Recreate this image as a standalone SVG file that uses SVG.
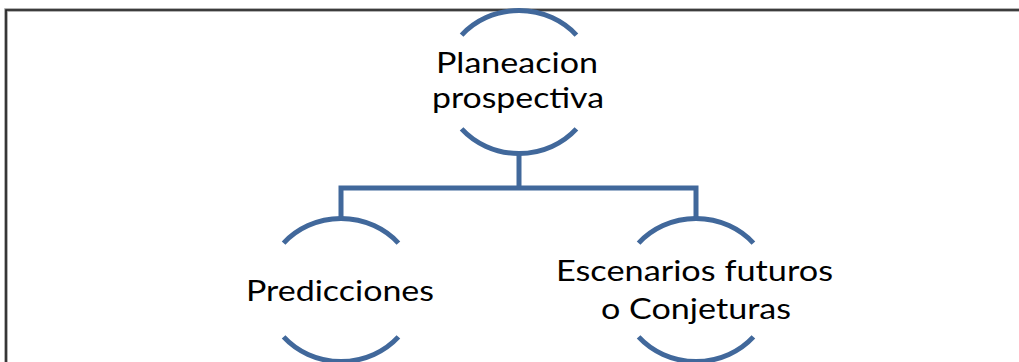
<svg xmlns="http://www.w3.org/2000/svg" width="1019" height="362" viewBox="0 0 1019 362">
<style>
.arc{fill:none;stroke:#41689B;stroke-width:5;stroke-linecap:butt}
.con{fill:none;stroke:#41689B;stroke-width:5;stroke-linejoin:miter}
.lbl{font-family:Lato,"Open Sans","Liberation Sans",sans-serif;font-size:29px;fill:#000}
</style>
<rect width="1019" height="362" fill="#fff"/>
<g id="frame">
<path d="M6,362 V10 H1019" fill="none" stroke="#9a9a9a" stroke-width="3.5"/>
<path d="M6,362 V10 H1019" fill="none" stroke="#1e1e1e" stroke-width="1.6"/>
</g>
<g id="connectors">
<path class="con" d="M519,154 V188"/>
<path class="con" d="M341,219 V188 H696 V219"/>
</g>
<g id="node-planeacion">
<path class="arc" d="M461.6,35.1 A76,71.5 0 0 1 576.4,35.1"/>
<path class="arc" d="M461.6,128.9 A76,71.5 0 0 0 576.4,128.9"/>
<text class="lbl" x="436" y="73" textLength="162" lengthAdjust="spacingAndGlyphs">Planeacion</text>
<text class="lbl" x="432" y="108" textLength="172" lengthAdjust="spacingAndGlyphs">prospectiva</text>
</g>
<g id="node-predicciones">
<path class="arc" d="M283.6,243.1 A76,71.5 0 0 1 398.4,243.1"/>
<path class="arc" d="M283.6,336.9 A76,71.5 0 0 0 398.4,336.9"/>
<text class="lbl" x="246" y="301" textLength="188" lengthAdjust="spacingAndGlyphs">Predicciones</text>
</g>
<g id="node-escenarios">
<path class="arc" d="M638.6,243.1 A76,71.5 0 0 1 753.4,243.1"/>
<path class="arc" d="M638.6,336.9 A76,71.5 0 0 0 753.4,336.9"/>
<text class="lbl" x="556" y="281" textLength="277" lengthAdjust="spacingAndGlyphs">Escenarios futuros</text>
<text class="lbl" x="601" y="319" textLength="190" lengthAdjust="spacingAndGlyphs">o Conjeturas</text>
</g>
</svg>
